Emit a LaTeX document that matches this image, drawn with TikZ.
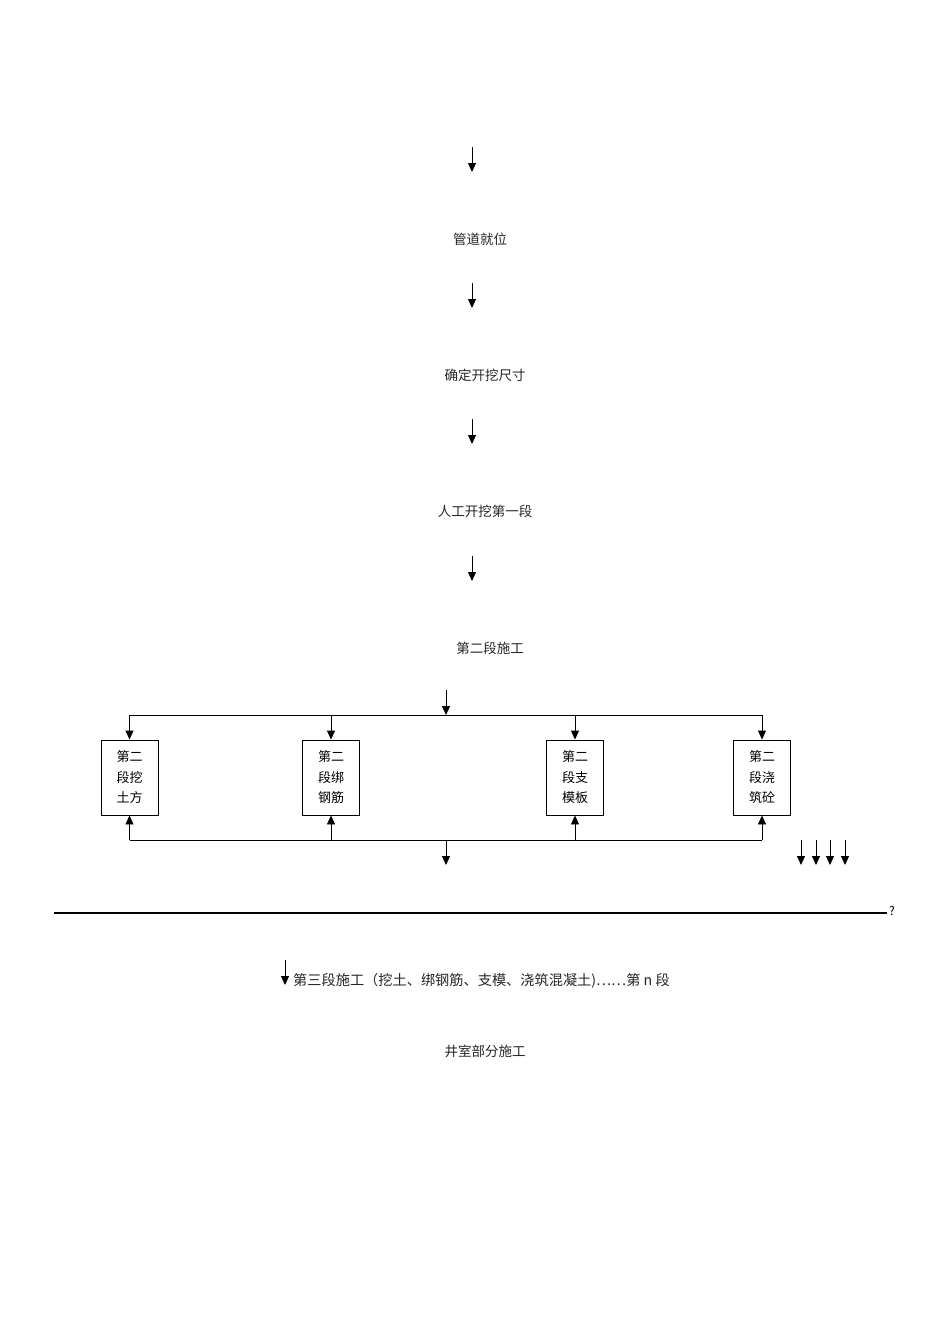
\documentclass[tikz,border=0pt]{standalone}
\usepackage{fontspec}
\setmainfont{Noto Sans CJK SC}
\usetikzlibrary{arrows.meta}
\begin{document}
\begin{tikzpicture}[x=1pt,y=-1pt,
  conn/.style={line width=0.9pt},
  arr/.style={conn,-{Triangle[length=9pt,width=8pt]}},
  lbl/.style={font=\fontsize{13.5}{15}\selectfont,inner sep=0pt,text=black!85},
  sbox/.style={draw,line width=0.9pt,minimum width=57pt,minimum height=75pt,inner sep=0pt,align=center,font=\fontsize{13}{20.5}\selectfont}]
\useasboundingbox (0,0) rectangle (950,1344);
% top chain
\coordinate (a0s) at (472,147); \coordinate (a0e) at (472,172);
\draw[arr] (a0s) -- (a0e);
\node[lbl] (t1) at (480,239) {管道就位};
\coordinate (a1s) at (472,283); \coordinate (a1e) at (472,308);
\draw[arr] (a1s) -- (a1e);
\node[lbl] (t2) at (485,375) {确定开挖尺寸};
\coordinate (a2s) at (472,419); \coordinate (a2e) at (472,444);
\draw[arr] (a2s) -- (a2e);
\node[lbl] (t3) at (485,511) {人工开挖第一段};
\coordinate (a3s) at (472,556); \coordinate (a3e) at (472,581);
\draw[arr] (a3s) -- (a3e);
\node[lbl] (t4) at (490,648) {第二段施工};
% distribution
\coordinate (ds) at (446,690); \coordinate (dt) at (446,715);
\draw[arr] (ds) -- (dt);
\node[sbox] (b1) at (129.5,777.5) {第二\\段挖\\土方};
\node[sbox] (b2) at (331,777.5) {第二\\段绑\\钢筋};
\node[sbox] (b3) at (575,777.5) {第二\\段支\\模板};
\node[sbox] (b4) at (762,777.5) {第二\\段浇\\筑砼};
\coordinate (tl) at (129.5,715); \coordinate (tr) at (762,715);
\coordinate (bl) at (129.5,840); \coordinate (br) at (762,840);
\draw[conn] (tl) -- (tr);
\draw[conn] (bl) -- (br);
\draw[arr] (tl) -- (b1.north);
\draw[arr] (b2.north |- tl) -- (b2.north);
\draw[arr] (b3.north |- tl) -- (b3.north);
\draw[arr] (tr) -- (b4.north);
\draw[arr] (bl) -- (b1.south);
\draw[arr] (b2.south |- bl) -- (b2.south);
\draw[arr] (b3.south |- bl) -- (b3.south);
\draw[arr] (br) -- (b4.south);
\coordinate (os) at (446,840); \coordinate (oe) at (446,865);
\draw[arr] (os) -- (oe);
% four small arrows
\foreach \i/\x in {1/801,2/816,3/830,4/845}{
  \coordinate (fs\i) at (\x,840); \coordinate (fe\i) at (\x,865);
  \draw[arr] (fs\i) -- (fe\i);
}
% long line
\coordinate (ll) at (54,913); \coordinate (lr) at (887,913);
\draw[line width=1.4pt] (ll) -- (lr);
\node[font=\fontsize{12}{14}\selectfont,inner sep=0pt,anchor=base west] (q) at (889,915) {?};
% third segment
\coordinate (s3s) at (285,960); \coordinate (s3e) at (285,985);
\draw[arr] (s3s) -- (s3e);
\node[lbl,font=\fontsize{14.2}{16}\selectfont,anchor=west] (t5) at (293,981) {第三段施工（挖土、绑钢筋、支模、浇筑混凝土)……第 n 段};
\node[lbl] (t6) at (485,1051) {井室部分施工};
\end{tikzpicture}
\end{document}
